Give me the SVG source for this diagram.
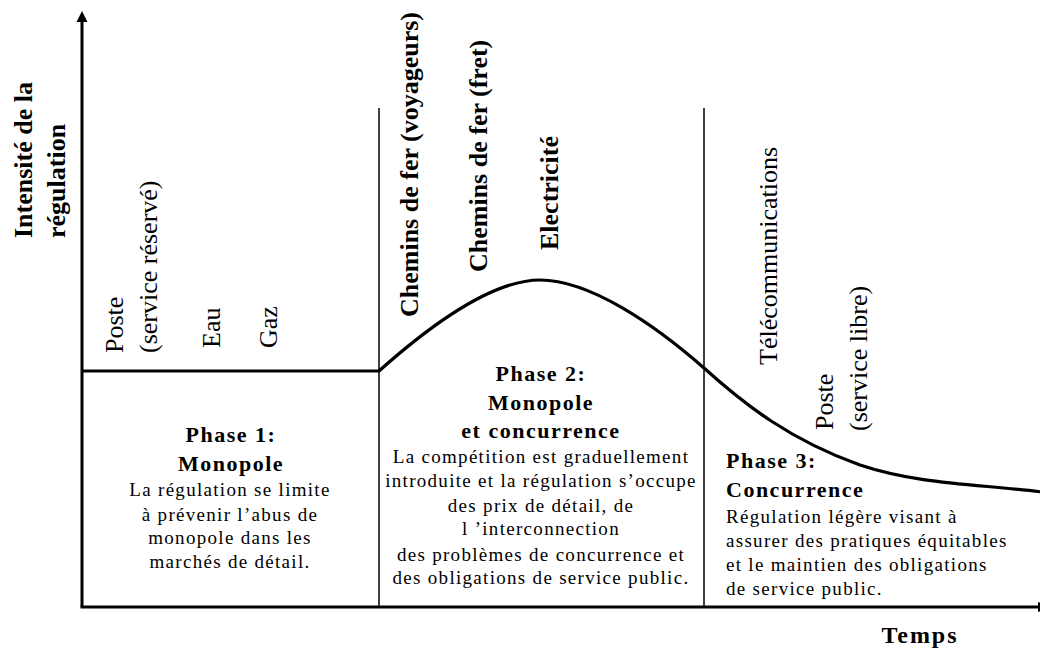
<svg xmlns="http://www.w3.org/2000/svg" width="1040" height="648" viewBox="0 0 1040 648">
<style>
.ax{stroke:#000;stroke-width:3;fill:none}
.sep{stroke:#000;stroke-width:1.5;fill:none}
.crv{stroke:#000;stroke-width:3.2;fill:none;stroke-linejoin:round}
text{font-family:"Liberation Serif","Times New Roman","DejaVu Serif",serif;fill:#000}
.vl{font-size:26px}
.vb{font-size:26px;font-weight:bold}
.ph{font-size:22px;font-weight:bold;letter-spacing:1.5px}
.bd{font-size:19px;letter-spacing:1.3px}
.c{text-anchor:middle}
</style>
<rect width="1040" height="648" fill="#fff"/>
<g id="connectors">
<line class="ax" x1="82" y1="607" x2="82" y2="20"/>
<polygon points="82,11 76.5,22 87.5,22" fill="#000"/>
<line class="ax" x1="80.5" y1="607" x2="1040" y2="607"/>
<polygon points="1038,602 1050,607 1038,612" fill="#000"/>
<line class="sep" x1="379" y1="108" x2="379" y2="607"/>
<line class="sep" x1="704" y1="108" x2="704" y2="607"/>
<path class="crv" d="M82,371 L379,371 C425,330 490,280 540,280 C590,280 655,325 704,368 C745,405 790,440 860,465 C920,485 980,484 1042,492"/>
</g>
<g id="y-axis-label">
<text class="vb" transform="translate(32,238) rotate(-90)">Intensité de la</text>
<text class="vb" transform="translate(65,238) rotate(-90)">régulation</text>
</g>
<g id="x-axis-label">
<text x="920" y="643" class="c" style="font-size:24px;font-weight:bold;letter-spacing:2px">Temps</text>
</g>
<g id="sectors-phase1">
<text class="vl" transform="translate(123,353) rotate(-90)">Poste</text>
<text class="vl" transform="translate(157,353) rotate(-90)">(service réservé)</text>
<text class="vl" transform="translate(220,348) rotate(-90)">Eau</text>
<text class="vl" transform="translate(277,348) rotate(-90)">Gaz</text>
</g>
<g id="sectors-phase2">
<text class="vb" transform="translate(418,317) rotate(-90)">Chemins de fer (voyageurs)</text>
<text class="vb" transform="translate(487,272) rotate(-90)">Chemins de fer (fret)</text>
<text class="vb" transform="translate(558,250) rotate(-90)">Electricité</text>
</g>
<g id="sectors-phase3">
<text class="vl" transform="translate(777,365) rotate(-90)">Télécommunications</text>
<text class="vl" transform="translate(833,430) rotate(-90)">Poste</text>
<text class="vl" transform="translate(867,431) rotate(-90)">(service libre)</text>
</g>
<g id="phase1">
<text class="ph c" x="231" y="442">Phase 1:</text>
<text class="ph c" x="231" y="471">Monopole</text>
<text class="bd c" x="230" y="496">La régulation se limite</text>
<text class="bd c" x="230" y="521">à prévenir l’abus de</text>
<text class="bd c" x="230" y="544">monopole dans les</text>
<text class="bd c" x="230" y="568">marchés de détail.</text>
</g>
<g id="phase2">
<text class="ph c" x="541" y="381">Phase 2:</text>
<text class="ph c" x="541" y="410">Monopole</text>
<text class="ph c" x="541" y="438">et concurrence</text>
<text class="bd c" x="541" y="463">La compétition est graduellement</text>
<text class="bd c" x="541" y="487">introduite et la régulation s’occupe</text>
<text class="bd c" x="541" y="512">des prix de détail, de</text>
<text class="bd c" x="541" y="535">l ’interconnection</text>
<text class="bd c" x="541" y="561">des problèmes de concurrence et</text>
<text class="bd c" x="541" y="584">des obligations de service public.</text>
</g>
<g id="phase3">
<text class="ph" x="726" y="468">Phase 3:</text>
<text class="ph" x="726" y="497">Concurrence</text>
<text class="bd" x="726" y="523">Régulation légère visant à</text>
<text class="bd" x="726" y="547">assurer des pratiques équitables</text>
<text class="bd" x="726" y="571">et le maintien des obligations</text>
<text class="bd" x="726" y="595">de service public.</text>
</g>
</svg>
